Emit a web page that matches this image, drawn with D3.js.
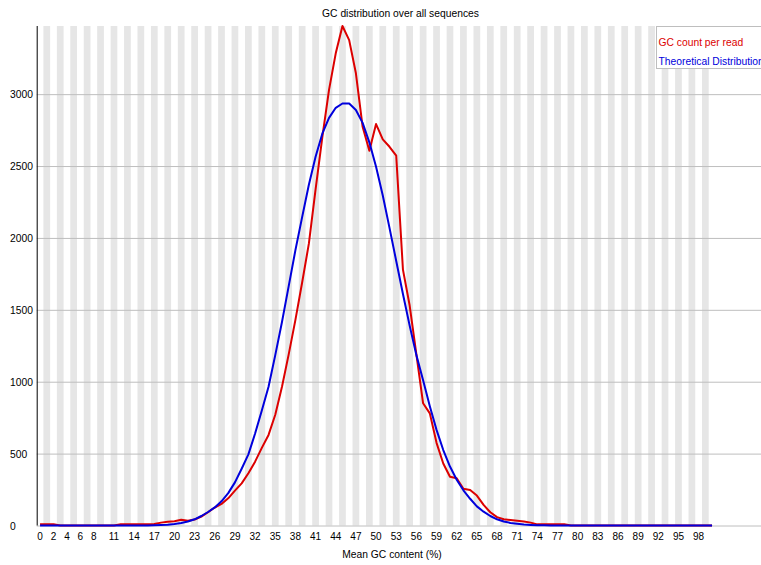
<!DOCTYPE html>
<html>
<head>
<meta charset="utf-8">
<script src="https://cdn.jsdelivr.net/npm/d3@7"></script>
<style>
  html, body { margin: 0; padding: 0; background: #ffffff; }
  svg { display: block; font-family: "Liberation Sans", Arial, sans-serif; }
</style>
</head>
<body>
<svg id="chart" width="761" height="565"></svg>
<script>
// ---------- data ----------
const gcCategories = d3.range(0, 101); // Mean GC content (%) 0..100

const gcCountPerRead = [
  8, 9, 8, 0, 0, 0, 0, 0, 0, 0,
  0, 0, 8, 9, 9, 8, 9, 10, 20, 26,
  30, 40, 33, 42, 62, 92, 125, 150, 189, 242,
  293, 363, 444, 540, 630, 770, 965, 1190, 1430, 1690,
  1960, 2337, 2700, 3030, 3284, 3474, 3376, 3145, 2773, 2606,
  2792, 2686, 2634, 2572, 1780, 1530, 1190, 850, 780, 575,
  431, 339, 328, 255, 247, 208, 143, 92, 58, 43,
  38, 33, 28, 20, 8, 8, 8, 8, 8, 0,
  0, 0, 0, 0, 0, 0, 0, 0, 0, 0,
  0, 0, 0, 0, 0, 0, 0, 0, 0, 0,
  0
];

const theoreticalDistribution = [
  0, 0, 0, 0, 0, 0, 0, 0, 0, 0,
  0, 0, 0, 0, 0, 0, 0, 1, 3, 6,
  11, 18, 28, 43, 66, 94, 126, 168, 225, 300,
  395, 495, 640, 800, 965, 1185, 1415, 1665, 1915, 2145,
  2370, 2565, 2725, 2835, 2905, 2935, 2935, 2890, 2800, 2665,
  2495, 2295, 2070, 1840, 1610, 1390, 1185, 1010, 830, 665,
  525, 410, 318, 245, 186, 133, 96, 66, 43, 28,
  18, 12, 7, 4, 2, 1, 0, 0, 0, 0,
  0, 0, 0, 0, 0, 0, 0, 0, 0, 0,
  0, 0, 0, 0, 0, 0, 0, 0, 0, 0,
  0
];

const xTickLabels = [0, 2, 4, 6, 8, 11, 14, 17, 20, 23, 26, 29, 32, 35, 38, 41, 44, 47,
  50, 53, 56, 59, 62, 65, 68, 71, 74, 77, 80, 83, 86, 89, 92, 95, 98];
const yTickValues = [0, 500, 1000, 1500, 2000, 2500, 3000];

const seriesNames = ["GC count per read", "Theoretical Distribution"];
const seriesColors = ["rgb(220,0,0)", "rgb(0,0,220)"];
const titleText = "GC distribution over all sequences";
const xAxisTitle = "Mean GC content (%)";

// ---------- layout ----------
const svg = d3.select("#chart");
const W = 761, H = 565;
const plotLeft = 36.7, catWidth = 6.72;
const plotTop = 26, plotBottom = 525.5;
const fontSize = 10.3;

const x = d3.scaleBand()
  .domain(gcCategories)
  .range([plotLeft, plotLeft + catWidth * gcCategories.length])
  .padding(0);

const yMax = d3.max([d3.max(gcCountPerRead), d3.max(theoreticalDistribution)]);
const y = d3.scaleLinear().domain([0, yMax]).range([plotBottom, plotTop]);

// alternating stripes
svg.append("g").selectAll("rect")
  .data(gcCategories.filter((d, i) => i % 2 === 1))
  .join("rect")
  .attr("x", d => x(d))
  .attr("y", plotTop)
  .attr("width", x.bandwidth())
  .attr("height", plotBottom - plotTop)
  .attr("fill", "rgb(230,230,230)");

// horizontal grid lines (including baseline)
const grid = svg.append("g")
  .attr("transform", `translate(${plotLeft},0)`)
  .call(d3.axisRight(y).tickValues(yTickValues).tickSize(W - plotLeft).tickFormat(""));
grid.select(".domain").remove();
grid.selectAll(".tick line").attr("stroke", "rgb(190,190,190)").attr("stroke-width", 1);

// y axis labels (left aligned)
const yLab = svg.append("g")
  .attr("transform", "translate(10,0)")
  .call(d3.axisRight(y).tickValues(yTickValues).tickSize(0).tickPadding(0).tickFormat(d3.format("d")));
yLab.select(".domain").remove();
yLab.selectAll("text")
  .attr("x", 0)
  .attr("dy", "0.36em")
  .attr("text-anchor", "start")
  .attr("font-family", "Liberation Sans, Arial, sans-serif")
  .attr("font-size", fontSize)
  .attr("fill", "#000");

// y axis line
svg.append("line")
  .attr("x1", plotLeft + 0.5).attr("x2", plotLeft + 0.5)
  .attr("y1", plotTop).attr("y2", plotBottom)
  .attr("stroke", "#000").attr("stroke-width", 1);

// x axis labels
const xAx = svg.append("g")
  .attr("transform", `translate(0,${plotBottom})`)
  .call(d3.axisBottom(x).tickValues(xTickLabels).tickSize(0).tickPadding(0));
xAx.select(".domain").remove();
xAx.selectAll("text")
  .attr("y", 14.5)
  .attr("dy", null)
  .attr("font-family", "Liberation Sans, Arial, sans-serif")
  .attr("font-size", 10)
  .attr("fill", "#000");

// lines
const line = d3.line()
  .x((d, i) => x(gcCategories[i]) + x.bandwidth() / 2)
  .y(d => y(d));

[gcCountPerRead, theoreticalDistribution].forEach((s, k) => {
  svg.append("path")
    .datum(s)
    .attr("d", line)
    .attr("fill", "none")
    .attr("stroke", seriesColors[k])
    .attr("stroke-width", 2)
    .attr("stroke-linejoin", "round");
});

// title
svg.append("text")
  .attr("x", 400.5).attr("y", 16.5)
  .attr("text-anchor", "middle")
  .attr("font-size", fontSize)
  .attr("fill", "#000")
  .text(titleText);

// x axis title
svg.append("text")
  .attr("x", 392).attr("y", 558)
  .attr("text-anchor", "middle")
  .attr("font-size", fontSize)
  .attr("fill", "#000")
  .text(xAxisTitle);

// legend
const legend = svg.append("g");
legend.append("rect")
  .attr("x", 656.5).attr("y", 26.5)
  .attr("width", 130).attr("height", 42)
  .attr("fill", "#fff")
  .attr("stroke", "rgb(190,190,190)");
seriesNames.forEach((n, k) => {
  legend.append("text")
    .attr("x", 658.5).attr("y", 45.5 + k * 19.5)
    .attr("font-size", fontSize)
    .attr("fill", seriesColors[k])
    .text(n);
});
</script>
</body>
</html>
